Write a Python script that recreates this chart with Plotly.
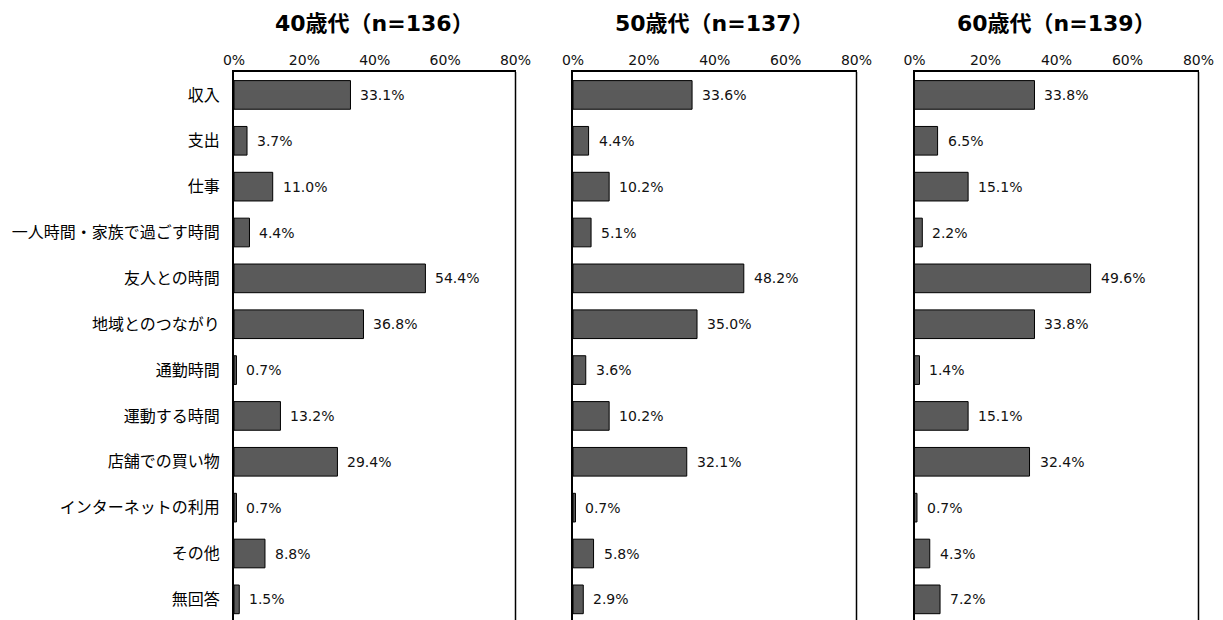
import plotly.graph_objects as go

categories = ["収入", "支出", "仕事", "一人時間・家族で過ごす時間", "友人との時間", "地域とのつながり",
              "通勤時間", "運動する時間", "店舗での買い物", "インターネットの利用", "その他", "無回答"]
titles = ["40歳代（n=136）", "50歳代（n=137）", "60歳代（n=139）"]
v40 = [33.1, 3.7, 11.0, 4.4, 54.4, 36.8, 0.7, 13.2, 29.4, 0.7, 8.8, 1.5]
v50 = [33.6, 4.4, 10.2, 5.1, 48.2, 35.0, 3.6, 10.2, 32.1, 0.7, 5.8, 2.9]
v60 = [33.8, 6.5, 15.1, 2.2, 49.6, 33.8, 1.4, 15.1, 32.4, 0.7, 4.3, 7.2]
tickvals = [0, 20, 40, 60, 80]
ticktext = ["0%", "20%", "40%", "60%", "80%"]
series = [v40, v50, v60]

CJK = "Noto Sans CJK JP"
NUM = "DejaVu Sans, Noto Sans CJK JP"
OFF = 8  # browser body margin
W, H = 1223 - OFF, 620 - OFF
ML, MR, MT, MB = 234 - OFF, 24, 72 - OFF, 0
pw = W - ML - MR
ph = H - MT - MB
px = lambda p: min(1.0, max(0.0, (p - OFF - ML) / pw))
domains = [[px(234), px(515.5)], [px(573), px(856.5)], [px(914.5), px(1198.5)]]

fig = go.Figure()
annotations = []
shapes = []
for i, vals in enumerate(series):
    xa = "x" if i == 0 else f"x{i+1}"
    ya = "y" if i == 0 else f"y{i+1}"
    fig.add_trace(go.Bar(
        x=vals, y=categories, orientation="h", xaxis=xa, yaxis=ya,
        marker=dict(color="#5a5a5a", line=dict(color="#000000", width=1)),
        width=0.625, hoverinfo="skip", showlegend=False,
    ))
    for c, v in zip(categories, vals):
        annotations.append(dict(
            x=v, y=c, xref=xa, yref=ya, text=f"{v:.1f}%", showarrow=False,
            xanchor="left", yanchor="middle", xshift=8,
            font=dict(family=NUM, size=14, color="#111111"),
        ))
    d = domains[i]
    annotations.append(dict(
        x=(d[0] + d[1]) / 2, y=1 + (72 - 23) / ph, xref="paper", yref="paper",
        text=f"<b>{titles[i]}</b>", showarrow=False, xanchor="center", yanchor="middle",
        font=dict(family=NUM, size=22, color="#000000"),
    ))
    shapes.append(dict(type="line", xref=f"{xa} domain", yref=f"{ya} domain",
                       x0=1, x1=1, y0=0, y1=1, line=dict(color="#000000", width=1.5)))
    xkey = "xaxis" if i == 0 else f"xaxis{i+1}"
    ykey = "yaxis" if i == 0 else f"yaxis{i+1}"
    fig.update_layout(**{
        xkey: dict(domain=d, range=[0, 80], side="top", anchor=ya,
                   tickvals=tickvals, ticktext=ticktext, showgrid=False, zeroline=False,
                   showline=True, linecolor="#000000", linewidth=1.5, ticks="",
                   tickfont=dict(family=NUM, size=14, color="#111111"), fixedrange=True),
        ykey: dict(domain=[0, 1], range=[11.45, -0.5], anchor=xa, type="category",
                   showgrid=False, zeroline=False, showline=True, linecolor="#000000",
                   linewidth=2, ticks="", showticklabels=(i == 0), ticklabelstandoff=9,
                   tickfont=dict(family=CJK, size=16, color="#000000"), fixedrange=True),
    })

fig.update_layout(
    width=W, height=H, margin=dict(l=ML, r=MR, t=MT, b=MB, pad=0),
    paper_bgcolor="#ffffff", plot_bgcolor="#ffffff",
    annotations=annotations, shapes=shapes, bargap=0.375,
    font=dict(family=CJK),
)
fig.write_html("out.html", config={"displayModeBar": False})
